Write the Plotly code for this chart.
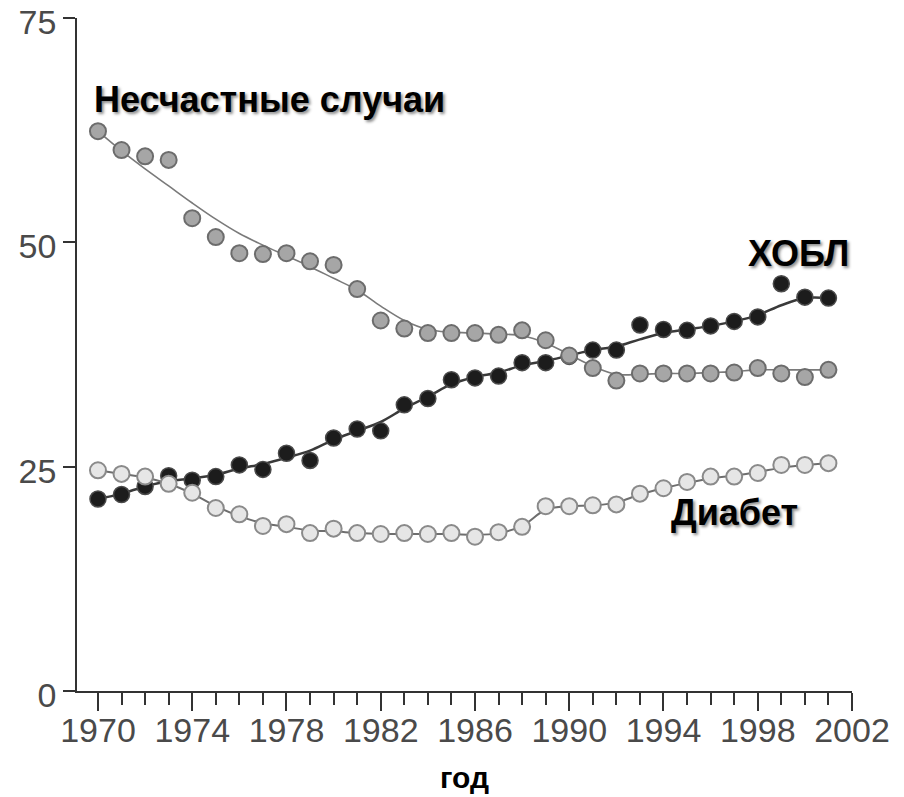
import plotly.graph_objects as go

years = list(range(1970, 2002))

accidents = [62.4, 60.3, 59.6, 59.2, 52.7, 50.6, 48.8, 48.7, 48.8, 47.9, 47.5, 44.8,
             41.3, 40.4, 39.9, 39.9, 39.9, 39.7, 40.2, 39.1, 37.4, 36.0, 34.6, 35.4,
             35.4, 35.4, 35.4, 35.5, 36.0, 35.4, 35.0, 35.8]
accidents_trend = [62.4, 60.2, 58.2, 56.3, 54.4, 52.6, 51.0, 49.7, 48.5, 47.3, 46.0, 44.7,
                   42.9, 41.3, 40.3, 40.0, 39.9, 39.8, 39.6, 38.8, 37.5, 36.2, 35.3, 35.3,
                   35.4, 35.4, 35.5, 35.6, 35.8, 35.8, 35.8, 35.8]

copd = [21.4, 21.9, 22.8, 24.0, 23.5, 23.9, 25.2, 24.7, 26.5, 25.7, 28.2, 29.2,
        29.0, 31.9, 32.6, 34.7, 34.9, 35.1, 36.6, 36.6, 37.3, 38.0, 38.0, 40.8,
        40.3, 40.2, 40.7, 41.2, 41.7, 45.4, 43.9, 43.8]
copd_trend = [21.4, 22.0, 22.8, 23.4, 23.7, 24.1, 24.8, 25.3, 26.0, 26.8, 28.0, 29.0,
              30.0, 31.5, 32.8, 34.2, 35.0, 35.5, 36.3, 36.8, 37.4, 38.0, 38.4, 39.2,
              39.9, 40.3, 40.7, 41.2, 41.9, 43.0, 43.8, 43.8]

diabetes = [24.6, 24.2, 23.9, 23.1, 22.1, 20.4, 19.7, 18.4, 18.6, 17.6, 18.1, 17.6,
            17.5, 17.6, 17.5, 17.6, 17.2, 17.7, 18.3, 20.6, 20.6, 20.7, 20.8, 22.0,
            22.6, 23.3, 23.9, 23.9, 24.3, 25.2, 25.2, 25.4]
diabetes_trend = [24.6, 24.2, 23.8, 23.1, 22.0, 20.6, 19.5, 18.7, 18.3, 17.9, 17.8, 17.6,
                  17.5, 17.5, 17.5, 17.5, 17.4, 17.6, 18.4, 20.2, 20.6, 20.7, 21.0, 21.9,
                  22.6, 23.2, 23.7, 24.0, 24.4, 24.9, 25.2, 25.4]

y_ticks = [0, 25, 50, 75]
x_ticks = list(range(1970, 2003, 4))

label_accidents = "Несчастные случаи"
label_copd = "ХОБЛ"
label_diabetes = "Диабет"
x_title = "год"

fig = go.Figure()

# trend lines
fig.add_trace(go.Scatter(x=years, y=copd_trend, mode="lines", line=dict(color="#3a3a3a", width=2.5, shape="spline"),
                         hoverinfo="skip"))
fig.add_trace(go.Scatter(x=years, y=diabetes_trend, mode="lines", line=dict(color="#6e6e6e", width=2, shape="spline"),
                         hoverinfo="skip"))
fig.add_trace(go.Scatter(x=years, y=accidents_trend, mode="lines", line=dict(color="#7a7a7a", width=1.6, shape="spline"),
                         hoverinfo="skip"))

# markers
fig.add_trace(go.Scatter(x=years, y=copd, mode="markers", name=label_copd,
                         marker=dict(size=16, color="#1c1c1c", line=dict(color="#4a4a4a", width=1.5))))
fig.add_trace(go.Scatter(x=years, y=diabetes, mode="markers", name=label_diabetes,
                         marker=dict(size=16, color="#e6e6e6", line=dict(color="#8a8a8a", width=2))))
fig.add_trace(go.Scatter(x=years, y=accidents, mode="markers", name=label_accidents,
                         marker=dict(size=16, color="#a6a6a6", line=dict(color="#6c6c6c", width=2))))

lab_font = dict(family="Liberation Sans, Arial, sans-serif", size=36, color="#000000", weight="bold",
                shadow="2px 2px 3px #8c8c8c")

fig.add_annotation(x=1969.73, y=65.9, xref="x", yref="y", text=label_accidents, showarrow=False,
                   xanchor="left", yanchor="middle", font=lab_font)
fig.add_annotation(x=1999.73, y=48.8, xref="x", yref="y", text=label_copd, showarrow=False,
                   xanchor="center", yanchor="middle", font=lab_font)
fig.add_annotation(x=1999.8, y=19.9, xref="x", yref="y", text=label_diabetes, showarrow=False,
                   xanchor="right", yanchor="middle", font=lab_font)

tick_font = dict(family="Liberation Sans, Arial, sans-serif", size=34, color="#4a4a4a")

# the page body adds an 8px offset, so margins are compensated
fig.update_layout(
    width=904, height=797, autosize=False,
    margin=dict(l=69, r=60, t=10, b=114, autoexpand=False),
    paper_bgcolor="white", plot_bgcolor="white",
    showlegend=False,
    xaxis=dict(range=[1969.11, 2002], showgrid=False, zeroline=False, automargin=False,
               showline=True, linecolor="#333333", linewidth=1.5,
               ticks="outside", tickvals=x_ticks, ticklen=18, tickwidth=1.5, tickcolor="#333333",
               tickfont=tick_font, ticklabelstandoff=-10, ticklabeloverflow="allow",
               minor=dict(dtick=1, tick0=1970, ticks="outside", ticklen=12, tickwidth=1.5,
                          tickcolor="#333333", showgrid=False),
               title=dict(text=x_title, font=dict(family="Liberation Sans, Arial, sans-serif", size=30,
                                                   color="#000000", weight="bold"), standoff=19)),
    yaxis=dict(range=[0, 75.02], showgrid=False, zeroline=False, automargin=False,
               showline=True, linecolor="#333333", linewidth=1.5,
               ticks="outside", tickvals=y_ticks, ticklen=12, tickwidth=1.5, tickcolor="#333333",
               tickfont=tick_font, ticklabeloverflow="allow", ticklabelshift=4),
)

fig.write_html("out.html")
